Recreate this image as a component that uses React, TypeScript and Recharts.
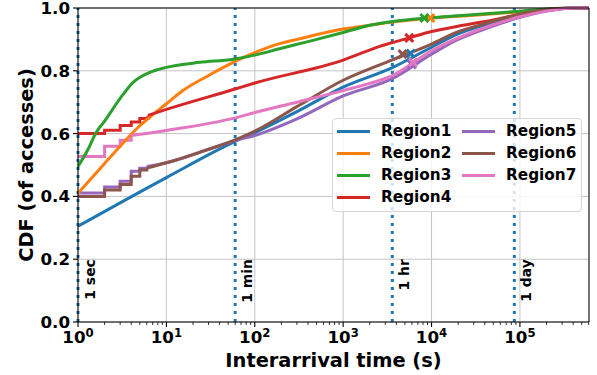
import React from 'react';
import {
  ComposedChart,
  Line,
  Scatter,
  XAxis,
  YAxis,
  CartesianGrid,
  ReferenceLine,
  Legend,
} from 'recharts';

const FONT = '"DejaVu Sans", Verdana, sans-serif';

// axis ticks
const majorTicks = [1, 10, 100, 1000, 10000, 100000];
const minorTicks = majorTicks
  .flatMap((d) => [2, 3, 4, 5, 6, 7, 8, 9].map((m) => m * d))
  .filter((v) => v < 604800);
const yTicks = [0, 0.2, 0.4, 0.6, 0.8, 1.0];
const xMax = 604800; // 1 week

// reference times
const timeMarks = [1, 60, 3600, 86400];
const timeLabels = ['1 sec', '1 min', '1 hr', '1 day'];

const regionNames = ['Region1', 'Region2', 'Region3', 'Region4', 'Region5', 'Region6', 'Region7'];
const regionColors = ['#1f77b4', '#ff7f0e', '#2ca02c', '#d62728', '#9467bd', '#8c564b', '#e377c2'];

// Region1
const r1X = [1, 10, 60, 100, 300, 1000, 3600, 10000, 20000, 30000, 100000, 200000, 400000, 604800];
const r1Y = [0.305, 0.46, 0.575, 0.603, 0.67, 0.748, 0.81, 0.875, 0.918, 0.935, 0.975, 0.992, 1.0, 1.0];
// Region2
const r2X = [1, 2, 3, 5, 7, 10, 15, 30, 60, 100, 200, 300, 1000, 2000, 3600, 10000, 30000, 100000, 200000, 400000, 604800];
const r2Y = [0.41, 0.505, 0.56, 0.625, 0.66, 0.695, 0.735, 0.785, 0.83, 0.858, 0.888, 0.9, 0.933, 0.945, 0.955, 0.968, 0.977, 0.988, 0.995, 1.0, 1.0];
// Region3
const r3X = [1, 1.3, 1.6, 2, 3, 4.2, 6.5, 10, 24, 57, 100, 200, 400, 1000, 2000, 3600, 10000, 20000, 100000, 200000, 400000, 604800];
const r3Y = [0.495, 0.55, 0.603, 0.64, 0.712, 0.763, 0.795, 0.811, 0.827, 0.837, 0.85, 0.872, 0.893, 0.922, 0.945, 0.957, 0.969, 0.975, 0.99, 0.997, 1.0, 1.0];
// Region4 (integer steps, then smooth)
const r4StepX = [1, 2, 3, 4, 5, 6.2];
const r4StepY = [0.6, 0.611, 0.626, 0.637, 0.648, 0.658];
const r4X = [6.2, 10, 60, 100, 1000, 2600, 3600, 5600, 10000, 20000, 50000, 100000, 200000, 400000, 604800];
const r4Y = [0.658, 0.677, 0.742, 0.761, 0.834, 0.878, 0.89, 0.905, 0.925, 0.942, 0.962, 0.98, 0.993, 1.0, 1.0];
// Region5
const r5StepX = [1, 2, 3, 4, 5, 6];
const r5StepY = [0.411, 0.43, 0.448, 0.48, 0.49, 0.495];
const r5X = [6, 10, 30, 60, 100, 300, 1000, 3600, 10000, 20000, 30000, 100000, 200000, 400000, 604800];
const r5Y = [0.495, 0.507, 0.55, 0.578, 0.594, 0.647, 0.72, 0.775, 0.853, 0.9, 0.92, 0.97, 0.99, 1.0, 1.0];
// Region6
const r6StepX = [1, 2, 3, 4, 5, 6];
const r6StepY = [0.4, 0.42, 0.438, 0.464, 0.484, 0.49];
const r6X = [6, 10, 30, 60, 100, 300, 1000, 3600, 10000, 20000, 30000, 100000, 200000, 400000, 604800];
const r6Y = [0.49, 0.507, 0.55, 0.58, 0.608, 0.686, 0.77, 0.835, 0.885, 0.925, 0.94, 0.98, 0.995, 1.0, 1.0];
// Region7
const r7StepX = [1, 2, 3, 4];
const r7StepY = [0.527, 0.56, 0.579, 0.594];
const r7X = [4, 10, 60, 100, 300, 1000, 2000, 3600, 10000, 20000, 30000, 100000, 200000, 400000, 604800];
const r7Y = [0.594, 0.61, 0.65, 0.667, 0.7, 0.737, 0.76, 0.785, 0.864, 0.905, 0.925, 0.972, 0.99, 1.0, 1.0];

// 'x' markers per region
const markerX = [5800, 9700, 8300, 5600, 6000, 4700, 6200];
const markerY = [0.855, 0.968, 0.968, 0.905, 0.82, 0.853, 0.827];

const zip = (xs: number[], ys: number[]) => xs.map((x, i) => ({ x, y: ys[i] }));

const smoothSeries = [zip(r1X, r1Y), zip(r2X, r2Y), zip(r3X, r3Y), zip(r4X, r4Y), zip(r5X, r5Y), zip(r6X, r6Y), zip(r7X, r7Y)];
const stepSeries: { idx: number; data: { x: number; y: number }[] }[] = [
  { idx: 3, data: zip(r4StepX, r4StepY) },
  { idx: 4, data: zip(r5StepX, r5StepY) },
  { idx: 5, data: zip(r6StepX, r6StepY) },
  { idx: 6, data: zip(r7StepX, r7StepY) },
];

const XTick = (props: any) => {
  const { x, y, payload } = props;
  const exp = Math.log10(payload.value);
  const major = Math.abs(exp - Math.round(exp)) < 1e-9;
  return (
    <g>
      <line x1={x} x2={x} y1={y} y2={y + (major ? 5 : 3)} stroke="#000" strokeWidth={major ? 1.1 : 0.8} />
      {major && (
        <text x={x} y={y + 21} textAnchor="middle" fontFamily={FONT} fontWeight="bold" fontSize={16.7} fill="#000">
          <tspan>10</tspan>
          <tspan dy={-6} fontSize={11.7}>{Math.round(exp)}</tspan>
        </text>
      )}
    </g>
  );
};

const XMark = (props: any) => {
  const { cx, cy, fill } = props;
  const s = 4;
  return (
    <path
      d={`M${cx - s},${cy - s}L${cx + s},${cy + s}M${cx - s},${cy + s}L${cx + s},${cy - s}`}
      stroke={fill}
      strokeWidth={3}
      fill="none"
    />
  );
};

const TimeLabel = (text: string) => (props: any) => {
  const vb = props.viewBox;
  return (
    <text
      transform={`translate(${vb.x + 17},${vb.y + vb.height * 0.8}) rotate(-90)`}
      textAnchor="end"
      fontFamily={FONT}
      fontWeight="bold"
      fontSize={13.9}
      fill="#000"
    >
      {text}
    </text>
  );
};

const LegendBox = (props: any) => {
  const items = (props.payload || []).filter((p: any) => regionNames.includes(p.value));
  return (
    <div
      style={{
        boxSizing: 'border-box',
        width: 250,
        height: 94,
        background: 'rgba(255,255,255,0.8)',
        border: '1px solid #d6d6d6',
        borderRadius: 4,
        padding: '1px 0 0 4px',
        display: 'grid',
        gridTemplateRows: 'repeat(4, 22px)',
        gridTemplateColumns: '125px 120px',
        gridAutoFlow: 'column',
        fontFamily: FONT,
        fontWeight: 'bold',
        fontSize: 15.3,
        color: '#000',
      }}
    >
      {items.map((p: any) => (
        <div key={p.value} style={{ display: 'flex', alignItems: 'center' }}>
          <span style={{ display: 'inline-block', width: 33, height: 3, background: p.color, marginRight: 11 }} />
          <span>{p.value}</span>
        </div>
      ))}
    </div>
  );
};

export default function App() {
  return (
    <div style={{ position: 'absolute', left: 0, top: 0, width: 597, height: 375, background: '#fff' }}>
      <ComposedChart width={597} height={375} margin={{ top: 8, right: 8, bottom: 0, left: 0 }}>
        <CartesianGrid vertical={false} stroke="#c4c4c4" strokeWidth={1} />
        {majorTicks.slice(1).map((t) => (
          <ReferenceLine key={'g' + t} x={t} stroke="#c4c4c4" strokeWidth={1} />
        ))}
        <XAxis
          dataKey="x"
          type="number"
          scale="log"
          domain={[1, xMax]}
          allowDataOverflow
          ticks={[...majorTicks, ...minorTicks]}
          interval={0}
          tick={<XTick />}
          tickLine={false}
          tickSize={0}
          tickMargin={0}
          height={53}
          axisLine={{ stroke: '#000', strokeWidth: 1.1 }}
          label={{
            content: (p: any) => (
              <text
                x={p.viewBox.x + p.viewBox.width / 2}
                y={p.viewBox.y + 45}
                textAnchor="middle"
                fontFamily={FONT}
                fontWeight="bold"
                fontSize={19.4}
                fill="#000"
              >
                Interarrival time (s)
              </text>
            ),
          }}
        />
        <YAxis
          dataKey="y"
          type="number"
          domain={[0, 1]}
          ticks={yTicks}
          interval={0}
          width={78}
          tickFormatter={(v: number) => v.toFixed(1)}
          tick={{ fill: '#000', fontSize: 16.7, fontWeight: 'bold', fontFamily: FONT }}
          tickLine={{ stroke: '#000', strokeWidth: 1.1 }}
          tickSize={5}
          tickMargin={3}
          axisLine={{ stroke: '#000', strokeWidth: 1.1 }}
          label={{
            content: (p: any) => (
              <text
                transform={`translate(33,${p.viewBox.y + p.viewBox.height / 2}) rotate(-90)`}
                textAnchor="middle"
                fontFamily={FONT}
                fontWeight="bold"
                fontSize={19.4}
                fill="#000"
              >
                CDF (of accesses)
              </text>
            ),
          }}
        />
        {timeMarks.map((t, i) => (
          <ReferenceLine
            key={'t' + t}
            x={t}
            stroke="#1f77b4"
            strokeWidth={3}
            strokeDasharray="3 5"
            label={{ content: TimeLabel(timeLabels[i]) }}
          />
        ))}
        {stepSeries.map((s) => (
          <Line
            key={'s' + s.idx}
            data={s.data}
            dataKey="y"
            type="stepAfter"
            stroke={regionColors[s.idx]}
            strokeWidth={3}
            dot={false}
            legendType="none"
            isAnimationActive={false}
          />
        ))}
        {smoothSeries.map((d, i) => (
          <Line
            key={regionNames[i]}
            name={regionNames[i]}
            data={d}
            dataKey="y"
            type="monotone"
            stroke={regionColors[i]}
            strokeWidth={3}
            dot={false}
            isAnimationActive={false}
          />
        ))}
        {regionNames.map((n, i) => (
          <Scatter
            key={'m' + n}
            name={n + ' mark'}
            data={[{ x: markerX[i], y: markerY[i] }]}
            dataKey="y"
            fill={regionColors[i]}
            shape={<XMark />}
            legendType="none"
            isAnimationActive={false}
          />
        ))}
        <ReferenceLine y={1} stroke="#000" strokeWidth={1.1} />
        <ReferenceLine x={xMax} stroke="#000" strokeWidth={1.1} />
        <Legend
          content={<LegendBox />}
          layout="vertical"
          align="center"
          verticalAlign="middle"
          wrapperStyle={{ left: 332, top: 118, width: 250, height: 94 }}
        />
      </ComposedChart>
    </div>
  );
}
